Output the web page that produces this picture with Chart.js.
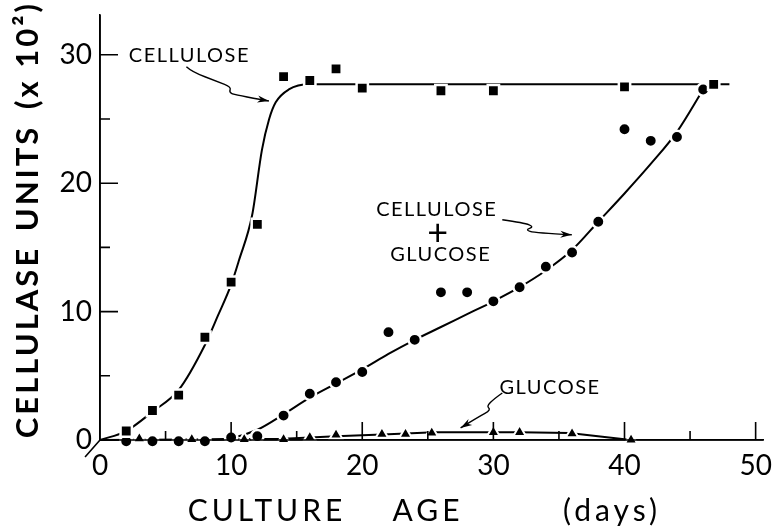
<!DOCTYPE html>
<html><head><meta charset="utf-8">
<script src="https://cdn.jsdelivr.net/npm/chart.js@4.4.1/dist/chart.umd.min.js"></script>
<style>html,body{margin:0;padding:0;background:#fff}#wrap{width:774px;height:527px;position:relative}</style>
</head><body><div id="wrap"><canvas id="c"></canvas></div>
<script>
// ---- data ----
const celluloseDays  = [2, 4, 6, 8, 10, 12, 14, 16, 18, 20, 26, 30, 40, 46.8];
const celluloseUnits = [0.7, 2.3, 3.5, 8.0, 12.3, 16.8, 28.3, 28.0, 28.9, 27.4, 27.2, 27.2, 27.5, 27.7];

const mixDays  = [2, 4, 6, 8, 10, 12, 14, 16, 18, 20, 22, 24, 26, 28, 30, 32, 34, 36, 38, 40, 42, 44, 46];
const mixUnits = [-0.1, -0.1, -0.1, -0.1, 0.2, 0.3, 1.9, 3.6, 4.5, 5.3, 8.4, 7.8, 11.5, 11.5, 10.8, 11.9, 13.5, 14.6, 17.0, 24.2, 23.3, 23.6, 27.3];

const glucoseDays  = [3, 7, 11, 14, 16, 18, 21.5, 23.3, 25.3, 30, 32, 36, 40.5];
const glucoseUnits = [0.1, 0.05, 0.05, 0.05, 0.2, 0.4, 0.45, 0.45, 0.55, 0.6, 0.6, 0.5, 0];

// fitted curves (traced)
const celluloseCurveDays  = [0, 2, 4, 6, 8, 9, 10, 10.6, 11.6, 12.35, 12.9, 13.4, 14.4, 16, 20, 30, 40, 48];
const celluloseCurveUnits = [0, 0.7, 2.2, 3.9, 7.4, 9.7, 12.1, 14.0, 17.5, 22.6, 25.0, 26.3, 27.3, 27.7, 27.7, 27.7, 27.7, 27.7];

const mixCurveDays  = [8, 10, 12, 14, 16, 18, 20, 22, 24, 26, 28, 30, 32, 34, 36, 38, 40, 42, 44, 46];
const mixCurveUnits = [0, 0.15, 0.8, 2.0, 3.3, 4.4, 5.5, 6.7, 7.8, 8.8, 9.8, 10.8, 11.9, 13.2, 14.8, 17.0, 19.2, 21.5, 24.0, 27.3];

const glucoseCurveDays  = [0, 10, 14, 18, 22, 25.5, 30, 32, 35.8, 40.5];
const glucoseCurveUnits = [0, 0.05, 0.1, 0.3, 0.45, 0.6, 0.6, 0.6, 0.55, 0];

const xTickValues = [0, 5, 10, 15, 20, 25, 30, 35, 40, 45, 50];
const yTickValues = [0, 5, 10, 15, 20, 25, 30];
const xMax = 50.6, yMax = 33.1;

const yTitleWords = ['CELLULASE', 'UNITS', '(x 10\u00B2)'];
const xTitleWords = ['CULTURE', 'AGE', '(days)'];

// annotations (data coordinates)
const labels = [
  {text: 'CELLULOSE', x: 6.82, y: 29.93},
  {text: 'CELLULOSE', x: 25.68, y: 17.93},
  {text: '+', x: 25.76, y: 16.13, big: true},
  {text: 'GLUCOSE', x: 25.98, y: 14.42},
  {text: 'GLUCOSE', x: 34.32, y: 4.05}
];
const arrows = [
  [[6.59,29.07],[7.0,28.68],[9.0,27.90],[10.0,27.5],[9.85,27.1],[10.2,26.9],[12.88,26.40]],
  [[30.68,17.15],[32.35,16.91],[33.11,16.60],[32.42,16.37],[33.18,16.13],[35.98,15.98]],
  [[30.68,3.66],[29.39,2.73],[29.85,2.34],[28.86,1.79],[27.5,0.94]]
];

const FONT = 'Lato, "Open Sans", "DejaVu Sans", sans-serif';
const pts = (xs, ys) => xs.map((x, i) => ({x: x, y: ys[i]}));

const decor = {
  id: 'decor',
  afterDraw(chart) {
    const {ctx, scales: {x, y}, chartArea: a} = chart;
    ctx.save();
    ctx.strokeStyle = '#000';
    ctx.fillStyle = '#000';
    ctx.lineCap = 'butt';
    // axis lines redrawn on top of markers
    ctx.lineWidth = 1.6;
    ctx.beginPath();
    ctx.moveTo(a.left, a.top); ctx.lineTo(a.left, a.bottom); ctx.lineTo(a.right, a.bottom);
    ctx.stroke();
    // inward ticks
    ctx.beginPath();
    xTickValues.forEach(v => {
      if (v === 0) return;
      const px = x.getPixelForValue(v);
      const len = v % 10 === 0 ? 18 : 9;
      ctx.moveTo(px, a.bottom); ctx.lineTo(px, a.bottom - len);
    });
    yTickValues.forEach(v => {
      if (v === 0) return;
      const py = y.getPixelForValue(v);
      const len = v % 10 === 0 ? 18 : 10;
      ctx.moveTo(a.left, py); ctx.lineTo(a.left + len, py);
    });
    // small slash at origin
    ctx.moveTo(x.getPixelForValue(0), y.getPixelForValue(0));
    ctx.lineTo(x.getPixelForValue(-1.14), y.getPixelForValue(-1.33));
    ctx.stroke();

    // annotation labels
    ctx.textAlign = 'center';
    ctx.textBaseline = 'middle';
    labels.forEach(l => {
      ctx.font = l.big ? '400 36px ' + FONT : '400 20px ' + FONT;
      ctx.letterSpacing = l.big ? '0px' : '1.5px';
      ctx.fillText(l.text, x.getPixelForValue(l.x), y.getPixelForValue(l.y));
    });
    ctx.letterSpacing = '0px';

    // wavy arrows
    ctx.lineWidth = 1.4;
    arrows.forEach(pa => {
      const p = pa.map(q => [x.getPixelForValue(q[0]), y.getPixelForValue(q[1])]);
      ctx.beginPath();
      ctx.moveTo(p[0][0], p[0][1]);
      for (let i = 1; i < p.length - 1; i++) {
        const last = i === p.length - 2;
        const mx = last ? p[i + 1][0] : (p[i][0] + p[i + 1][0]) / 2;
        const my = last ? p[i + 1][1] : (p[i][1] + p[i + 1][1]) / 2;
        ctx.quadraticCurveTo(p[i][0], p[i][1], mx, my);
      }
      ctx.stroke();
      const e = p[p.length - 1], s = p[p.length - 2];
      const ang = Math.atan2(e[1] - s[1], e[0] - s[0]);
      ctx.beginPath();
      ctx.moveTo(e[0], e[1]);
      ctx.lineTo(e[0] - 12 * Math.cos(ang - 0.3), e[1] - 12 * Math.sin(ang - 0.3));
      ctx.lineTo(e[0] - 8 * Math.cos(ang), e[1] - 8 * Math.sin(ang));
      ctx.lineTo(e[0] - 12 * Math.cos(ang + 0.3), e[1] - 12 * Math.sin(ang + 0.3));
      ctx.closePath();
      ctx.fill();
    });

    // axis titles
    ctx.font = '700 31px ' + FONT;
    ctx.letterSpacing = '3px';
    const yCenters = [342, 178, 55];
    ctx.save();
    ctx.translate(28, 0);
    ctx.rotate(-Math.PI / 2);
    yTitleWords.forEach((w, i) => ctx.fillText(w, -yCenters[i], 0));
    ctx.restore();
    ctx.font = '400 30px ' + FONT;
    ctx.letterSpacing = '4px';
    const xCenters = [267, 428, 612];
    xTitleWords.forEach((w, i) => ctx.fillText(w, xCenters[i], 511));
    ctx.restore();
  }
};

const markerBase = {showLine: false, pointBackgroundColor: '#000', clip: false};
const curveBase = {borderColor: '#000', borderWidth: 2, pointRadius: 0, fill: false, clip: false};

new Chart(document.getElementById('c'), {
  type: 'scatter',
  data: {
    datasets: [
      Object.assign({label: 'Cellulose', data: pts(celluloseDays, celluloseUnits), pointStyle: 'rect', pointRadius: 8, pointBorderColor: '#fff', pointBorderWidth: 2.5}, markerBase),
      Object.assign({label: 'Cellulose + glucose', data: pts(mixDays, mixUnits), pointStyle: 'circle', pointRadius: 6.2, pointBorderColor: '#fff', pointBorderWidth: 2.5}, markerBase),
      Object.assign({label: 'Glucose', data: pts(glucoseDays, glucoseUnits), pointStyle: 'triangle', pointRadius: 7.2, pointBorderColor: '#fff', pointBorderWidth: 2}, markerBase),
      Object.assign({label: 'Cellulose fit', data: pts(celluloseCurveDays, celluloseCurveUnits), showLine: true, cubicInterpolationMode: 'monotone'}, curveBase),
      Object.assign({label: 'Mix fit', data: pts(mixCurveDays, mixCurveUnits), showLine: true, cubicInterpolationMode: 'monotone'}, curveBase),
      Object.assign({label: 'Glucose fit', data: pts(glucoseCurveDays, glucoseCurveUnits), showLine: true, tension: 0}, curveBase)
    ]
  },
  options: {
    responsive: true,
    maintainAspectRatio: false,
    animation: false,
    layout: {padding: {top: 15, right: 6, left: 0, bottom: 0}},
    plugins: {legend: {display: false}, tooltip: {enabled: false}},
    scales: {
      x: {
        type: 'linear', min: 0, max: xMax,
        afterFit: s => { s.height = 87; s.paddingLeft = 0; s.paddingRight = 0; s.paddingTop = 0; s.paddingBottom = 0; },
        afterBuildTicks: s => { s.ticks = xTickValues.map(v => ({value: v})); },
        grid: {display: true, drawOnChartArea: false, drawTicks: false},
        border: {display: true, color: '#000', width: 1.6},
        ticks: {autoSkip: false, maxRotation: 0, padding: 9, color: '#000',
          font: {family: FONT, size: 28},
          callback: v => (v % 10 === 0 ? String(v) : '')}
      },
      y: {
        type: 'linear', min: 0, max: yMax,
        afterFit: s => { s.width = 100; s.paddingLeft = 0; s.paddingRight = 0; s.paddingTop = 0; s.paddingBottom = 0; },
        afterBuildTicks: s => { s.ticks = yTickValues.map(v => ({value: v})); },
        grid: {display: true, drawOnChartArea: false, drawTicks: false},
        border: {display: true, color: '#000', width: 1.6},
        ticks: {autoSkip: false, padding: 8, color: '#000',
          font: {family: FONT, size: 28},
          callback: v => (v % 10 === 0 ? String(v) : '')}
      }
    }
  },
  plugins: [decor]
});
</script>
</body></html>
